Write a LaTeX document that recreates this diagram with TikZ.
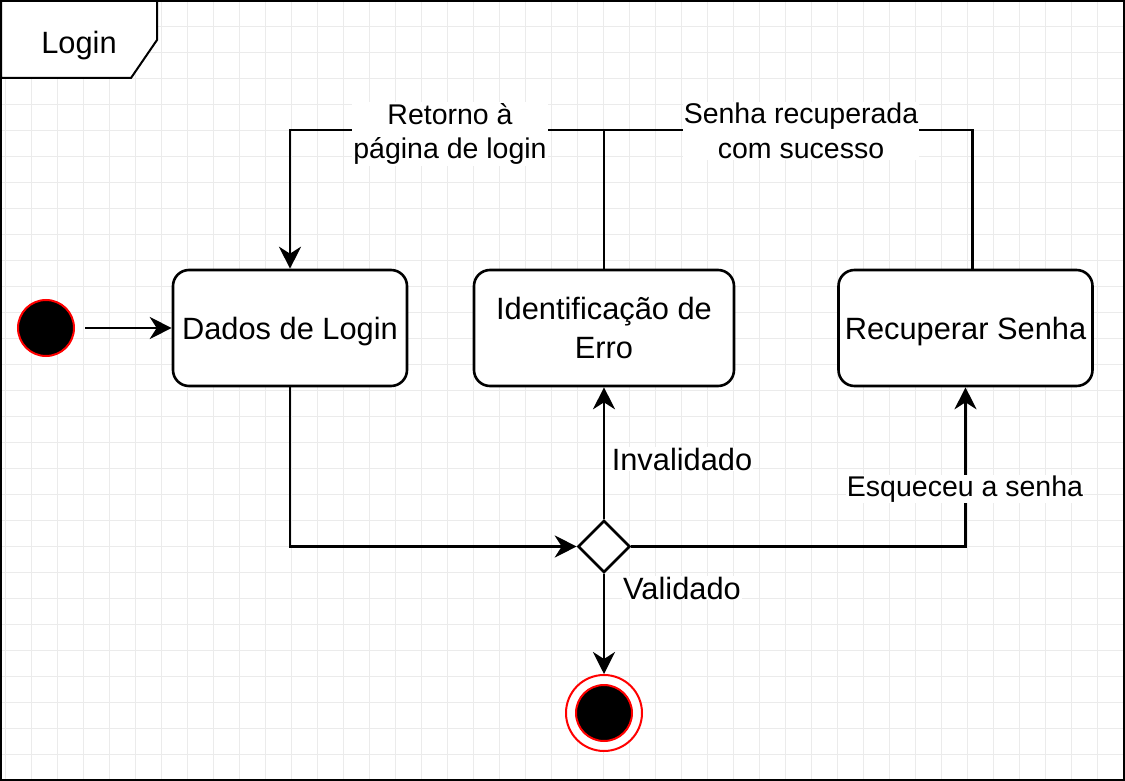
\documentclass[tikz,border=0pt]{standalone}
\usepackage{fontspec}
\setmainfont{Liberation Sans}
\usetikzlibrary{arrows.meta,shapes.geometric,calc}
\definecolor{gridc}{HTML}{EBEBEB}
\definecolor{redc}{HTML}{FF0000}
\tikzset{
  gridline/.style={draw=gridc,line width=0.9pt},
  statebox/.style={draw,line width=2.6pt,rounded corners=16pt,fill=white,inner sep=0pt,minimum height=116pt,align=center,font=\fontsize{30.8}{38.5}\selectfont},
  conn/.style={line width=2.6pt},
  arr/.style={conn,-{Stealth[length=22pt,width=22pt,inset=7pt]}},
  elabel/.style={fill=white,inner sep=1pt,align=center,font=\fontsize{28.5}{34.5}\selectfont},
  nlabel/.style={fill=white,inner sep=1pt,font=\fontsize{30.8}{36}\selectfont},
}
\begin{document}
\begin{tikzpicture}[x=1pt,y=-1pt]
\useasboundingbox (0,0) rectangle (1125,781);
% grid
\foreach \x in {5,31,...,1125} \draw[gridline] (\x,0) -- (\x,781);
\foreach \y in {0,26,...,781} \draw[gridline] (0,\y) -- (1125,\y);
% frame
\draw[line width=2pt] (1,1) rectangle (1123.5,779.5);
\draw[line width=2pt,fill=white] (1,1) -- (157,1) -- (157,40) -- (131,78) -- (1,78) -- cycle;
\node[font=\fontsize{30.8}{36}\selectfont,text depth=0pt] (title) at (79,42) {Login};
% nodes
\node[circle,draw=redc,fill=black,line width=2pt,minimum size=56pt,inner sep=0pt] (init) at (46,328) {};
\node[statebox,minimum width=234pt,text depth=0pt] (dados) at (290,328) {Dados de Login};
\node[statebox,minimum width=260pt] (ident) at (604,328) {Identificação de\\Erro};
\node[statebox,minimum width=254pt,text depth=0pt] (rec) at (965.5,328) {Recuperar Senha};
\node[diamond,draw,line width=2.6pt,fill=white,minimum width=52pt,minimum height=52pt,inner sep=0pt] (dia) at (604,546.5) {};
\node[circle,draw=redc,fill=white,line width=2pt,minimum size=76pt,inner sep=0pt] (fin) at (604,713) {};
\node[circle,draw=redc,fill=black,line width=2pt,minimum size=56pt,inner sep=0pt] (fininner) at (fin.center) {};
% connectors
\draw[arr] ([xshift=10pt]init.east) -- (dados.west);
\draw[arr] (dados.south) |- (dia.west);
\draw[arr] (dia.north) -- (ident.south);
\draw[arr] (dia.east) -| (rec.south);
\draw[arr] (dia.south) -- (fin.north);
\coordinate (jl) at (290,130);
\coordinate (rtop) at ([xshift=7pt]rec.north);
\draw[arr] (ident.north) |- (jl) -- (dados.north);
\draw[conn] (rtop) |- (ident.north |- jl);
% labels
\node[elabel] (lret) at (450,134) {Retorno à\\página de login};
\node[elabel] (lsen) at (801,131) {Senha recuperada\\com sucesso};
\node[elabel] (lesq) at (965,489) {Esqueceu a senha};
\node[nlabel] (linv) at (682,459) {Invalidado};
\node[nlabel] (lval) at (682,588) {Validado};
\end{tikzpicture}
\end{document}
